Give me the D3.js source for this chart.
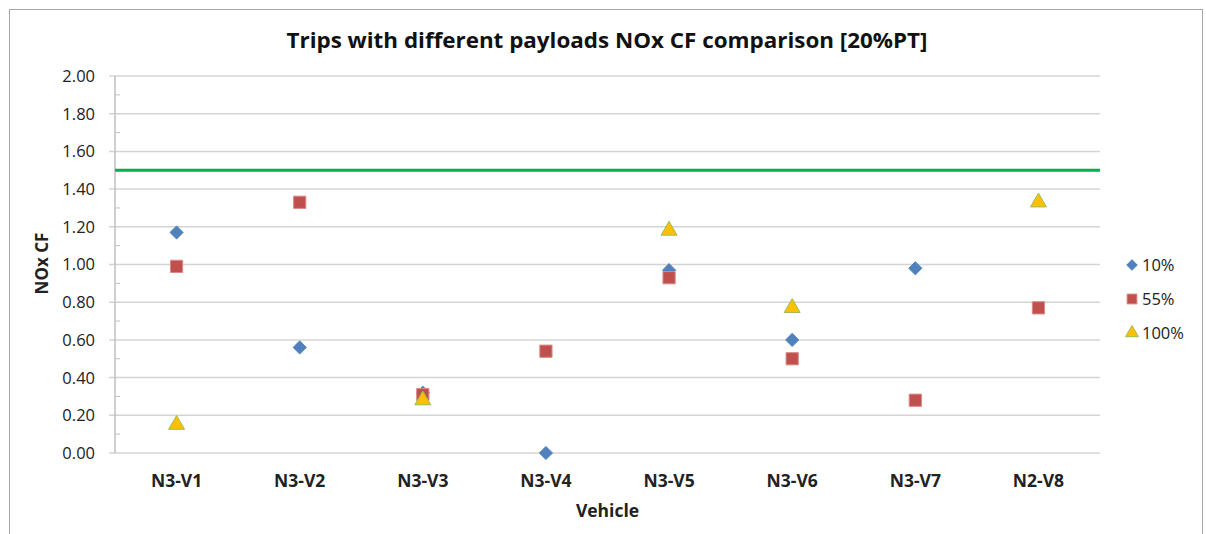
<!DOCTYPE html>
<html lang="en">
<head>
  <meta charset="UTF-8">
  <script src="https://cdn.jsdelivr.net/npm/d3@7"></script>
  <title>NOx CF comparison</title>
  <style>
    body { margin: 0; background: #fff; }
    * { font-family: "Open Sans", "Noto Sans", sans-serif; }
  </style>
</head>
<body>
<div id="chart"></div>
<script>
  // Data
  var vehicles = ['N3-V1', 'N3-V2', 'N3-V3', 'N3-V4', 'N3-V5', 'N3-V6', 'N3-V7', 'N2-V8'];
  var payload10 = [1.17, 0.56, 0.32, 0.00, 0.97, 0.60, 0.98, null];
  var payload55 = [0.99, 1.33, 0.31, 0.54, 0.93, 0.50, 0.28, 0.77];
  var payload100 = [0.15, null, 0.28, null, 1.18, 0.77, null, 1.33];
  var limitValue = 1.5;
  var yTicks = [0, 0.2, 0.4, 0.6, 0.8, 1.0, 1.2, 1.4, 1.6, 1.8, 2.0];

  var W = 1206, H = 534;
  var margin = {top: 76, right: 106, bottom: 81, left: 115};
  var width = W - margin.left - margin.right;
  var height = H - margin.top - margin.bottom;

  var svg = d3.select('#chart').append('svg')
      .attr('width', W).attr('height', H);

  // outer chart border
  svg.append('rect')
      .attr('x', 9.5).attr('y', 9.5)
      .attr('width', 1193).attr('height', 540)
      .attr('fill', 'none').attr('stroke', '#a6a6a6').attr('stroke-width', 1);

  svg.append('text')
      .attr('x', 607).attr('y', 48)
      .attr('text-anchor', 'middle')
      .attr('font-size', 21).attr('font-weight', 'bold')
      .attr('textLength', 641).attr('lengthAdjust', 'spacingAndGlyphs')
      .attr('fill', '#111')
      .text('Trips with different payloads NOx CF comparison [20%PT]');

  var g = svg.append('g')
      .attr('transform', 'translate(' + margin.left + ',' + margin.top + ')');

  var x = d3.scaleBand().domain(vehicles).range([0, width]);
  var y = d3.scaleLinear().domain([0, 2]).range([height, 0]);

  // gridlines + major ticks
  g.append('g').selectAll('line')
    .data(yTicks).enter().append('line')
      .attr('x1', -6).attr('x2', width)
      .attr('y1', function(d) { return y(d); })
      .attr('y2', function(d) { return y(d); })
      .attr('stroke', '#d4d4d4').attr('stroke-width', 1.5);

  // minor ticks
  var minor = yTicks.slice(0, -1).map(function(d) { return d + 0.1; });
  g.append('g').selectAll('line')
    .data(minor).enter().append('line')
      .attr('x1', 0).attr('x2', 5)
      .attr('y1', function(d) { return y(d); })
      .attr('y2', function(d) { return y(d); })
      .attr('stroke', '#bfbfbf').attr('stroke-width', 1);

  // y axis line
  g.append('line')
      .attr('x1', 0).attr('x2', 0).attr('y1', 0).attr('y2', height)
      .attr('stroke', '#bfbfbf').attr('stroke-width', 1.5);

  // y tick labels
  g.append('g').selectAll('text')
    .data(yTicks).enter().append('text')
      .attr('x', -20)
      .attr('y', function(d) { return y(d); })
      .attr('dy', '0.36em')
      .attr('text-anchor', 'end')
      .attr('font-size', 16.5).attr('fill', '#222')
      .text(function(d) { return d3.format('.2f')(d); });

  // x labels
  g.append('g').selectAll('text')
    .data(vehicles).enter().append('text')
      .attr('x', function(d) { return x(d) + x.bandwidth() / 2; })
      .attr('y', height + 34)
      .attr('text-anchor', 'middle')
      .attr('font-size', 17.5).attr('font-weight', 'bold').attr('fill', '#222')
      .text(function(d) { return d; });

  // axis titles
  g.append('text')
      .attr('x', width / 2).attr('y', height + 64)
      .attr('text-anchor', 'middle')
      .attr('font-size', 17.5).attr('font-weight', 'bold').attr('fill', '#222')
      .text('Vehicle');

  g.append('text')
      .attr('transform', 'translate(' + (-67) + ',' + (height / 2 - 1) + ') rotate(-90)')
      .attr('text-anchor', 'middle')
      .attr('font-size', 17).attr('font-weight', 'bold').attr('fill', '#222')
      .text('NOx CF');

  // limit line
  g.append('line')
      .attr('x1', 0).attr('x2', width)
      .attr('y1', y(limitValue)).attr('y2', y(limitValue))
      .attr('stroke', '#00b050').attr('stroke-width', 3);

  var series = [
    {name: '10%', values: payload10, shape: d3.symbolDiamond2, size: 110, fill: '#4f81bd', stroke: '#4f81bd'},
    {name: '55%', values: payload55, shape: d3.symbolSquare, size: 150, fill: '#c0504d', stroke: '#d98b89'},
    {name: '100%', values: payload100, shape: d3.symbolTriangle, size: 110, fill: '#ffc000', stroke: '#9bbb59'}
  ];

  series.forEach(function(s) {
    var pts = vehicles.map(function(v, i) { return {v: v, val: s.values[i]}; })
      .filter(function(d) { return d.val !== null; });
    g.append('g').selectAll('path')
      .data(pts).enter().append('path')
        .attr('transform', function(d) {
          return 'translate(' + (x(d.v) + x.bandwidth() / 2) + ',' + y(d.val) + ')';
        })
        .attr('d', d3.symbol().type(s.shape).size(s.size))
        .attr('fill', s.fill).attr('stroke', s.stroke).attr('stroke-width', 1);
  });

  // legend
  var legend = svg.append('g').attr('font-size', 16.5)
    .selectAll('g').data(series).enter().append('g')
      .attr('transform', function(d, i) { return 'translate(1132,' + (265 + i * 34) + ')'; });

  legend.append('path')
      .attr('d', function(d) { return d3.symbol().type(d.shape).size(d.size * 0.65)(); })
      .attr('fill', function(d) { return d.fill; })
      .attr('stroke', function(d) { return d.stroke; });

  legend.append('text')
      .attr('x', 10).attr('dy', '0.36em')
      .attr('fill', '#222')
      .text(function(d) { return d.name; });
</script>
</body>
</html>
